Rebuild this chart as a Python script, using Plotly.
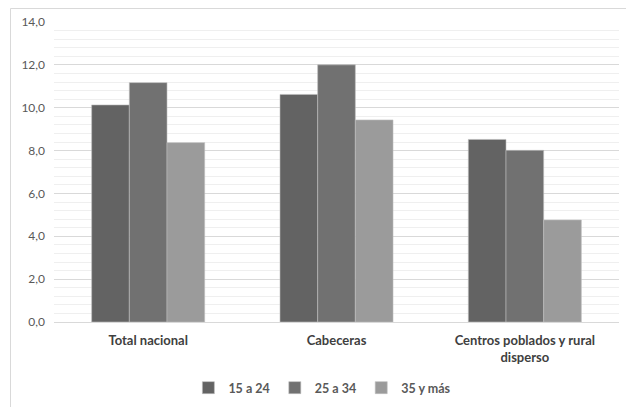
import plotly.graph_objects as go

categories = ["Total nacional", "Cabeceras", "Centros poblados y rural<br>disperso"]
series_names = ["15 a 24", "25 a 34", "35 y más"]
v_15_24 = [10.13, 10.62, 8.52]
v_25_34 = [11.17, 12.0, 8.01]
v_35_mas = [8.37, 9.43, 4.76]
colors = ["#636363", "#717171", "#9b9b9b"]

fig = go.Figure()
for name, vals, c in zip(series_names, [v_15_24, v_25_34, v_35_mas], colors):
    fig.add_trace(go.Bar(
        x=categories, y=vals, name="<b>" + name + "</b>",
        marker=dict(color=c, line=dict(color="#bdbdbd", width=0.6)),
    ))

font_family = "Lato, Open Sans, sans-serif"
# page body has an 8px margin, so the figure is sized/offset to compensate
W, H = 626, 399
fig.update_layout(
    width=W, height=H,
    barmode="group", bargap=0.40, bargroupgap=0,
    separators=", ",
    plot_bgcolor="white", paper_bgcolor="white",
    margin=dict(l=46, r=15, t=14, b=85, autoexpand=False),
    font=dict(family=font_family, size=12, color="#595959"),
    showlegend=True,
    legend=dict(orientation="h", x=0.475, xanchor="center", y=-0.22, yanchor="middle",
                font=dict(size=12.5, color="#595959", family=font_family),
                itemwidth=30, traceorder="normal"),
    yaxis=dict(range=[0, 14], dtick=2, tickformat=".1f", automargin=False,
               showgrid=True, gridcolor="#d9d9d9", gridwidth=1.2,
               zeroline=False, showline=False, ticks="", ticklabelstandoff=8,
               tickfont=dict(size=12, color="#595959"),
               minor=dict(dtick=0.4, showgrid=True, gridcolor="#efefef", gridwidth=1)),
    xaxis=dict(showline=True, linecolor="#d9d9d9", linewidth=1, ticks="", automargin=False,
               ticklabelstandoff=6,
               tickfont=dict(size=13, color="#404040", family=font_family)),
    shapes=[dict(type="rect", xref="paper", yref="paper",
                 x0=(2.5 - 46) / 565, x1=(624.5 - 46) / 565,
                 y0=-0.4, y1=1 + 13.5 / 300,
                 line=dict(color="#d9d9d9", width=1), fillcolor="rgba(0,0,0,0)", layer="below")],
)
fig.update_xaxes(tickvals=categories, ticktext=["<b>" + c + "</b>" for c in categories])

fig.write_html("out.html")
